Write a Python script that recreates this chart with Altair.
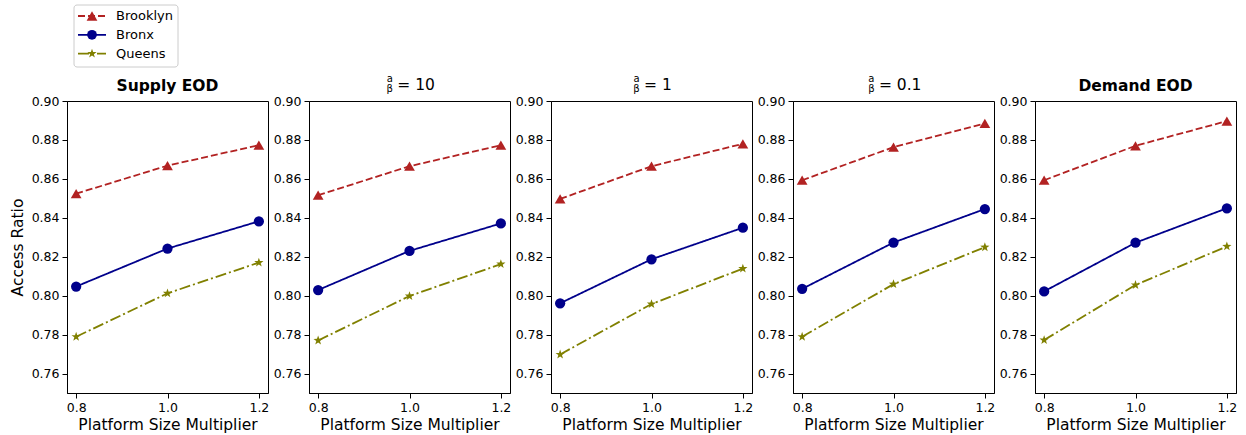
import math
import altair as alt
import pandas as pd

FONT = "DejaVu Sans"

# x positions and series values (one list per panel, left to right)
multipliers = [0.8, 1.0, 1.2]
cities = ["Brooklyn", "Bronx", "Queens"]

brooklyn_vals = [
    [0.8524, 0.8668, 0.8773],
    [0.8516, 0.8665, 0.8773],
    [0.8497, 0.8665, 0.8780],
    [0.8593, 0.8763, 0.8885],
    [0.8593, 0.8770, 0.8897],
]
bronx_vals = [
    [0.8047, 0.8242, 0.8382],
    [0.8029, 0.8230, 0.8371],
    [0.7961, 0.8187, 0.8349],
    [0.8035, 0.8273, 0.8445],
    [0.8022, 0.8272, 0.8449],
]
queens_vals = [
    [0.7789, 0.8012, 0.8170],
    [0.7770, 0.7998, 0.8162],
    [0.7698, 0.7957, 0.8139],
    [0.7789, 0.8059, 0.8249],
    [0.7772, 0.8055, 0.8253],
]

# panel titles: plain bold text, or a ratio a/β = value
bold_titles = {0: "Supply EOD", 4: "Demand EOD"}
ratio_titles = {1: "10", 2: "1", 3: "0.1"}

y_ticks = [0.76, 0.78, 0.80, 0.82, 0.84, 0.86, 0.88, 0.90]

# styling per series
colors = ["#b22222", "#00008b", "#808000"]
dashes = [[7, 3], [1, 0], [11, 3, 2, 3]]


def star_path(n=5, inner=0.40):
    pts = []
    for k in range(2 * n):
        r = 1.0 if k % 2 == 0 else inner
        a = -math.pi / 2 + k * math.pi / n
        pts.append((r * math.cos(a), r * math.sin(a)))
    return "M" + "L".join(f"{x:.3f},{y:.3f}" for x, y in pts) + "Z"


shapes = ["triangle-up", "circle", star_path()]
sizes = [115, 95, 95]

PANEL_W, PANEL_H = 201, 292

rows = []
for p in range(5):
    for city, vals in zip(cities, [brooklyn_vals, bronx_vals, queens_vals]):
        for m, v in zip(multipliers, vals[p]):
            rows.append({"panel": p, "city": city, "mult": m, "ratio": v})
df = pd.DataFrame(rows)
one = pd.DataFrame({"k": [0]})


def make_panel(p):
    d = df[df["panel"] == p]
    x = alt.X(
        "mult:Q",
        scale=alt.Scale(domain=[0.78, 1.22], nice=False, zero=False),
        axis=alt.Axis(values=multipliers, format=".1f", title="Platform Size Multiplier"),
    )
    y_axis = alt.Axis(values=y_ticks, format=".2f", title="Access Ratio") if p == 0 else alt.Axis(values=y_ticks, format=".2f", title=None)
    y = alt.Y(
        "ratio:Q",
        scale=alt.Scale(domain=[0.75, 0.90], nice=False, zero=False),
        axis=y_axis,
    )
    color = alt.Color("city:N", scale=alt.Scale(domain=cities, range=colors), legend=None)

    lines = alt.Chart(d).mark_line(strokeWidth=1.8).encode(
        x=x,
        y=y,
        color=color,
        strokeDash=alt.StrokeDash("city:N", scale=alt.Scale(domain=cities, range=dashes), legend=None),
    )
    points = alt.Chart(d).mark_point(filled=True, opacity=1, strokeWidth=0).encode(
        x=x,
        y=y,
        color=color,
        shape=alt.Shape("city:N", scale=alt.Scale(domain=cities, range=shapes), legend=None),
        size=alt.Size("city:O", scale=alt.Scale(domain=cities, range=sizes), legend=None),
    )
    layers = [lines, points]

    if p in bold_titles:
        layers.append(
            alt.Chart(one).mark_text(
                text=bold_titles[p], font=FONT, fontSize=15.5, fontWeight="bold",
                align="center", baseline="alphabetic", color="black",
            ).encode(x=alt.value(PANEL_W / 2), y=alt.value(-10))
        )
    else:
        val = ratio_titles[p]
        eq = "= " + val
        eq_w = 15 * (0.838 + 0.318 + 0.636 * len(val.replace(".", "")) + (0.318 if "." in val else 0))
        total = 9 + 3 + eq_w
        fx = PANEL_W / 2 - total / 2 + 4.5
        layers.append(
            alt.Chart(one).mark_text(
                text="a", font=FONT, fontSize=10, align="center", baseline="alphabetic", color="black"
            ).encode(x=alt.value(fx), y=alt.value(-19))
        )
        layers.append(
            alt.Chart(one).mark_text(
                text="β", font=FONT, fontSize=10, align="center", baseline="alphabetic", color="black"
            ).encode(x=alt.value(fx), y=alt.value(-9.5))
        )
        layers.append(
            alt.Chart(one).mark_text(
                text=eq, font=FONT, fontSize=15.5, align="left", baseline="alphabetic", color="black"
            ).encode(x=alt.value(fx + 7.5), y=alt.value(-11))
        )

    if p == 0:
        # legend box with line + marker samples
        layers.append(
            alt.Chart(one).mark_rect(
                fill="white", stroke="#cccccc", strokeWidth=1, cornerRadius=3
            ).encode(x=alt.value(7), x2=alt.value(111), y=alt.value(-96), y2=alt.value(-34))
        )
        for i, city in enumerate(cities):
            ry = -85 + i * 18.8
            layers.append(
                alt.Chart(one).mark_rule(
                    color=colors[i], strokeWidth=1.8, strokeDash=dashes[i]
                ).encode(x=alt.value(11), x2=alt.value(39), y=alt.value(ry))
            )
            layers.append(
                alt.Chart(one).mark_point(
                    shape=shapes[i], filled=True, opacity=1, strokeWidth=0,
                    color=colors[i], size=sizes[i],
                ).encode(x=alt.value(25), y=alt.value(ry))
            )
            layers.append(
                alt.Chart(one).mark_text(
                    text=city, font=FONT, fontSize=13, align="left", baseline="middle", color="black"
                ).encode(x=alt.value(49), y=alt.value(ry))
            )

    return alt.layer(*layers).properties(width=PANEL_W, height=PANEL_H)


chart = alt.hconcat(
    *[make_panel(p) for p in range(5)], spacing=41, bounds="flush"
).properties(
    padding={"left": 9, "top": 4, "right": 5, "bottom": 5}
).configure_view(
    stroke="black", strokeWidth=1
).configure_axis(
    grid=False,
    labelFont=FONT,
    labelFontSize=12.5,
    labelColor="black",
    titleFont=FONT,
    titleFontSize=15.5,
    titleFontWeight="normal",
    titleColor="black",
    domainColor="black",
    tickColor="black",
    tickSize=5,
    labelPadding=3,
).configure_axisX(
    titlePadding=4
).configure_axisY(
    titlePadding=6
)

chart.save("out.html", embed_options={"renderer": "svg", "actions": False})
